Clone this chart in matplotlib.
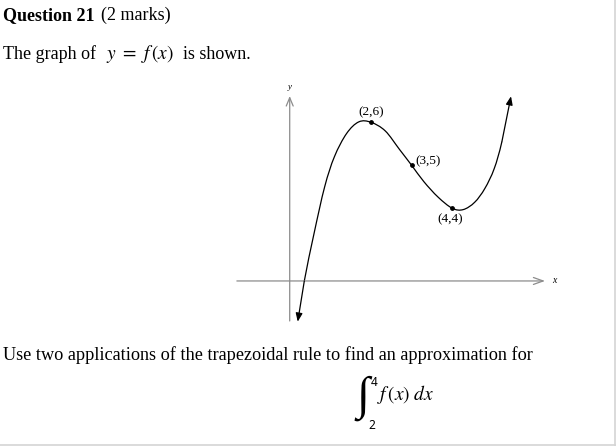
import matplotlib
matplotlib.use("Agg")
import matplotlib.pyplot as plt
from matplotlib.lines import Line2D
from matplotlib.path import Path
from matplotlib.patches import PathPatch

plt.rcParams['mathtext.fontset'] = 'stix'

# ---- data (schematic coordinates) ----
curve_x = [0.197, 0.359, 0.60, 0.86, 1.10, 1.40, 1.70, 2.0, 2.35, 2.70, 3.0, 3.30,
           3.65, 4.0, 4.27, 4.55, 4.80, 5.03, 5.22, 5.444]
curve_y = [1.363, 2.309, 3.42, 4.50, 5.20, 5.74, 6.01, 6.0, 5.80, 5.37, 5.0, 4.62,
           4.26, 4.0, 3.97, 4.14, 4.46, 4.92, 5.55, 6.605]
points_x = [2, 3, 4]
points_y = [6, 5, 4]
point_labels = ["(2,6)", "(3,5)", "(4,4)"]
x_axis_level = 2.31

W, H = 616, 446
fig = plt.figure(figsize=(W / 100, H / 100), dpi=100)
fig.patch.set_facecolor('white')

ax = fig.add_axes([0, 0, 1, 1])
ax.set_xlim(-7.127, 8.027)
ax.set_ylim(-1.528, 8.844)
ax.axis('off')

serif = 'Liberation Serif'
grey = '#8c8c8c'

# axes with arrows
ax.annotate('', xy=(0, 6.61), xytext=(0, 1.38),
            arrowprops=dict(arrowstyle='->,head_length=0.6,head_width=0.25', color=grey, lw=0.9,
                            shrinkA=0, shrinkB=0))
ax.annotate('', xy=(6.28, x_axis_level), xytext=(-1.30, x_axis_level),
            arrowprops=dict(arrowstyle='->,head_length=0.7,head_width=0.25', color=grey, lw=0.9,
                            shrinkA=0, shrinkB=0))
ax.text(0.0, 6.82, 'y', fontsize=6.5, family=serif, style='italic', ha='center', va='center')
ax.text(6.45, x_axis_level, 'x', fontsize=7, family=serif, style='italic', ha='left', va='center')

# smooth curve through the read points (Catmull-Rom as cubic Bezier segments)
pts = list(zip(curve_x, curve_y))
n = len(pts)
verts = [pts[1]]
codes = [Path.MOVETO]
for i in range(1, n - 2):
    p0, p1, p2, p3 = pts[i - 1], pts[i], pts[i + 1], pts[i + 2]
    c1 = (p1[0] + (p2[0] - p0[0]) / 6, p1[1] + (p2[1] - p0[1]) / 6)
    c2 = (p2[0] - (p3[0] - p1[0]) / 6, p2[1] - (p3[1] - p1[1]) / 6)
    verts += [c1, c2, p2]
    codes += [Path.CURVE4] * 3
ax.add_patch(PathPatch(Path(verts, codes), facecolor='none', edgecolor='black', lw=0.9))
ax.annotate('', xy=pts[0], xytext=pts[1],
            arrowprops=dict(arrowstyle='-|>,head_length=0.5,head_width=0.2', color='black', lw=0.9,
                            shrinkA=0, shrinkB=0))
ax.annotate('', xy=pts[-1], xytext=pts[-2],
            arrowprops=dict(arrowstyle='-|>,head_length=0.5,head_width=0.2', color='black', lw=0.9,
                            shrinkA=0, shrinkB=0))

# marked points
ax.scatter(points_x, points_y, s=6, color='black', zorder=3)
offsets = [(0, 7), (2.5, 3), (-1.5, -8)]
aligns = [('center', 'center'), ('left', 'center'), ('center', 'center')]
for px, py, lab, off, al in zip(points_x, points_y, point_labels, offsets, aligns):
    ax.annotate(lab, xy=(px, py), xytext=off, textcoords='offset points',
                ha=al[0], va=al[1], fontsize=9.5, family=serif)

# ---- page text ----
def fx(x):
    return x / W

def fy(y):
    return 1 - y / H

fig.text(fx(3), fy(20), 'Question 21', fontsize=13, family=serif, weight='bold', va='baseline')
fig.text(fx(101), fy(20), '(2 marks)', fontsize=13, family=serif, va='baseline')

fig.text(fx(3), fy(59), 'The graph of', fontsize=13, family=serif, va='baseline')
fig.text(fx(106), fy(59), r'$y\ =\ f\,(x)$', fontsize=14, va='baseline')
fig.text(fx(183), fy(59), 'is shown.', fontsize=13, family=serif, va='baseline')

fig.text(fx(3), fy(360), 'Use two applications of the trapezoidal rule to find an approximation for',
         fontsize=13.15, family=serif, va='baseline')

# integral
fig.text(fx(356), fy(398), '\u222b', fontsize=34, family=[serif, 'DejaVu Serif'],
         va='center', ha='left')
fig.text(fx(371), fy(386), '4', fontsize=8.5, family='Noto Sans', weight='bold', va='baseline')
fig.text(fx(368), fy(429), '2', fontsize=8.5, family='Noto Sans', weight='bold', va='baseline')
fig.text(fx(377), fy(400), r'$f\,(x)\,\,dx$', fontsize=14, va='baseline')

# light border at right and bottom
fig.add_artist(Line2D([fx(614.5), fx(614.5)], [0, 1], color='#d4d4d4', lw=1.2, transform=fig.transFigure))
fig.add_artist(Line2D([0, 1], [fy(445), fy(445)], color='#d4d4d4', lw=1.2, transform=fig.transFigure))

fig.savefig('out.png', dpi=100, facecolor='white')
